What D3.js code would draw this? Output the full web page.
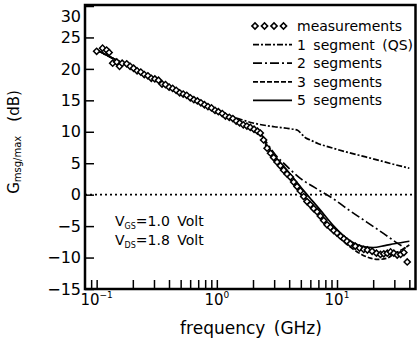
<!DOCTYPE html>
<html>
<head>
<meta charset="utf-8">
<title>Gmsg/max vs frequency</title>
<script src="https://cdnjs.cloudflare.com/ajax/libs/d3/7.8.5/d3.min.js"></script>
<style>
body { margin: 0; background: #fff; }
svg { font-family: "DejaVu Sans", sans-serif; }
</style>
</head>
<body>
<div id="chart"></div>
<script>
var measFreq = [0.100, 0.112, 0.121, 0.127, 0.136, 0.147, 0.155, 0.163, 0.178, 0.190,
    0.203, 0.217, 0.233, 0.249, 0.267, 0.285, 0.305, 0.327, 0.350, 0.374,
    0.401, 0.429, 0.459, 0.491, 0.525, 0.562, 0.602, 0.644, 0.689, 0.737,
    0.789, 0.844, 0.903, 0.966, 1.03, 1.11, 1.18, 1.27, 1.36, 1.45,
    1.55, 1.66, 1.78, 1.90, 2.04, 2.18, 2.30, 2.45, 2.62, 2.80,
    2.97, 3.17, 3.38, 3.60, 3.84, 4.09, 4.36, 4.65, 4.95, 5.28,
    5.63, 6.00, 6.39, 6.83, 7.27, 7.75, 8.27, 8.81, 9.39, 10.0,
    10.7, 11.4, 12.1, 12.9, 14.2, 15.4, 16.7, 17.9, 19.6, 21.3,
    23.0, 24.5, 26.2, 27.9, 29.7, 31.7, 33.8, 36.0, 38.4];
var measGain = [22.8, 23.3, 23.0, 22.6, 20.9, 21.1, 20.4, 20.9, 20.8, 20.4,
    20.1, 19.7, 19.5, 19.1, 18.9, 18.5, 18.4, 18.2, 17.6, 17.5,
    17.1, 16.9, 16.6, 16.2, 16.0, 15.8, 15.4, 15.1, 14.9, 14.6,
    14.3, 14.0, 13.8, 13.4, 13.2, 12.9, 12.5, 12.3, 12.1, 11.7,
    11.4, 11.1, 10.9, 10.7, 10.4, 10.1, 9.8, 8.7, 7.4, 6.6,
    5.9, 5.2, 4.6, 3.9, 3.3, 2.8, 2.0, 1.3, 0.6, -0.3,
    -1.1, -1.6, -2.2, -2.7, -3.4, -4.1, -4.8, -5.2, -5.7, -6.1,
    -6.6, -7.0, -7.4, -7.8, -8.2, -8.5, -8.7, -8.8, -9.0, -9.3,
    -9.5, -9.4, -9.3, -9.1, -9.3, -9.6, -9.5, -9.2, -10.7];

// model curves
var qsFreq = [0.1, 0.5, 1.0, 1.5, 2.0, 3.0, 4.0, 4.7, 5.1, 5.5, 6.0, 7.0, 8.5, 10, 15, 20, 30, 40];
var qsGain = [23.0, 16.1, 13.3, 12.1, 11.4, 10.8, 10.5, 10.25, 9.6, 9.0, 8.7, 8.1, 7.6, 7.2, 6.3, 5.7, 4.8, 4.2];

var seg2Freq = [0.1, 1.0, 2.0, 2.3, 2.53, 3.08, 3.6, 4.95, 6.83, 9.39, 12.9, 17.8, 24.5, 31.7, 38.4];
var seg2Gain = [23.0, 13.3, 10.4, 9.8, 8.6, 6.3, 5.0, 2.6, 0.9, -0.7, -2.6, -4.4, -6.2, -7.7, -8.7];

var seg3Freq = [0.1, 1.0, 2.0, 2.3, 2.6, 3.0, 3.6, 4.4, 5.3, 6.4, 7.75, 9.4, 11.4, 13.5, 16, 19, 22, 26, 30, 35, 40];
var seg3Gain = [23.0, 13.3, 10.4, 9.8, 7.5, 5.6, 3.7, 1.8, -0.2, -2.2, -4.1, -5.9, -7.5, -8.6, -9.5, -10.1, -10.3, -10.1, -9.4, -8.7, -8.0];

var seg5Freq = [0.1, 1.0, 2.0, 2.3, 2.6, 3.0, 3.6, 4.4, 5.3, 6.0, 7.3, 9.4, 12.1, 14.5, 17, 20, 25, 30, 40];
var seg5Gain = [23.0, 13.3, 10.4, 9.8, 7.8, 6.2, 4.5, 2.5, 0.6, -0.6, -2.5, -5.0, -7.0, -7.9, -8.3, -8.4, -8.1, -7.8, -7.4];

var yTicks = [-15, -10, -5, 0, 5, 10, 15, 20, 25, 30];
var xMinor = [0.09, 0.1, 0.2, 0.3, 0.4, 0.5, 0.6, 0.7, 0.8, 0.9, 1, 2, 3, 4, 5, 6, 7, 8, 9, 10, 20, 30, 40];
var xDecades = [0.1, 1, 10];
var xExps = ["\u22121", "0", "1"];
var legendLabels = ["measurements", "1 segment (QS)", "2 segments", "3 segments", "5 segments"];
var legendDash = [null, "6,2,2,2", "9,3,2,3", "5,2", null];

var w = 420, h = 347;
var left = 85, right = 415.5, topY = 5, bottom = 289;

var svg = d3.select("#chart").append("svg")
    .attr("width", w)
    .attr("height", h);

var x = d3.scaleLog().domain([0.08, 45]).range([left, right]);
var y = d3.scaleLinear().domain([-15, 30]).range([bottom, 6]);

// axes, ticks pointing inwards
var yAxis = svg.append("g")
    .attr("transform", "translate(" + left + ",0)")
    .call(d3.axisLeft(y).tickValues(yTicks).tickSize(-9).tickPadding(4));
yAxis.select(".domain").remove();
yAxis.selectAll("line").attr("stroke-width", 1.5);
yAxis.selectAll("text").attr("font-size", 16).attr("fill", "#000")
    .attr("font-family", "DejaVu Sans, sans-serif");
yAxis.selectAll(".tick").filter(function(d) { return d === 30; })
    .select("text").attr("dy", "0.95em");

var xAxis = svg.append("g")
    .attr("transform", "translate(0," + bottom + ")")
    .call(d3.axisBottom(x).tickValues(xMinor).tickSize(-9).tickFormat(""));
xAxis.select(".domain").remove();
xAxis.selectAll("line").attr("stroke-width", 1.5);

// decade labels
var xLab = svg.selectAll(".xlab")
    .data(xDecades)
    .enter()
    .append("text")
    .attr("class", "xlab")
    .attr("x", function(d) { return x(d); })
    .attr("y", 305)
    .attr("text-anchor", "middle")
    .attr("font-size", 15);
xLab.append("tspan").text("10");
xLab.append("tspan")
    .attr("font-size", 9)
    .attr("dy", -7)
    .text(function(d, i) { return xExps[i]; });

// zero line
svg.append("line")
    .attr("x1", left).attr("x2", right)
    .attr("y1", y(0)).attr("y2", y(0))
    .attr("stroke", "#000")
    .attr("stroke-width", 1.6)
    .attr("stroke-dasharray", "2,3");

var line = d3.line()
    .x(function(d) { return x(d[0]); })
    .y(function(d) { return y(d[1]); })
    .curve(d3.curveMonotoneX);

var models = [
    {f: qsFreq, g: qsGain, dash: legendDash[1]},
    {f: seg2Freq, g: seg2Gain, dash: legendDash[2]},
    {f: seg3Freq, g: seg3Gain, dash: legendDash[3]},
    {f: seg5Freq, g: seg5Gain, dash: legendDash[4]}
];

svg.selectAll(".model")
    .data(models)
    .enter()
    .append("path")
    .attr("class", "model")
    .attr("d", function(m) { return line(d3.zip(m.f, m.g)); })
    .attr("fill", "none")
    .attr("stroke", "#000")
    .attr("stroke-width", 1.7)
    .attr("stroke-dasharray", function(m) { return m.dash; });

// measurement diamonds
var diamond = d3.symbol().type(d3.symbolSquare).size(19);
svg.selectAll(".meas")
    .data(d3.zip(measFreq, measGain))
    .enter()
    .append("path")
    .attr("class", "meas")
    .attr("d", diamond)
    .attr("transform", function(d) { return "translate(" + x(d[0]) + "," + y(d[1]) + ") rotate(45)"; })
    .attr("fill", "#fff")
    .attr("stroke", "#000")
    .attr("stroke-width", 1.5);

// legend
var lg = svg.selectAll(".lg")
    .data(legendLabels)
    .enter()
    .append("g")
    .attr("class", "lg")
    .attr("transform", function(d, i) { return "translate(0," + (26 + i * 18.6) + ")"; });
lg.append("text")
    .attr("x", 297)
    .attr("y", 5)
    .attr("font-size", 14)
    .attr("word-spacing", 3)
    .text(function(d) { return d; });
lg.filter(function(d, i) { return i > 0; })
    .append("line")
    .attr("x1", 253).attr("x2", 292)
    .attr("stroke", "#000")
    .attr("stroke-width", 1.7)
    .attr("stroke-dasharray", function(d) { return legendDash[legendLabels.indexOf(d)]; });
lg.filter(function(d, i) { return i === 0; })
    .selectAll("path")
    .data([0, 1, 2, 3])
    .enter()
    .append("path")
    .attr("d", diamond)
    .attr("transform", function(d) { return "translate(" + (255 + d * 9.5) + ",0) rotate(45)"; })
    .attr("fill", "#fff")
    .attr("stroke", "#000")
    .attr("stroke-width", 1.6);

// bias note
var note = svg.append("text").attr("x", 115).attr("y", 226).attr("font-size", 14);
note.append("tspan").text("V");
note.append("tspan").attr("font-size", 8).attr("dy", 3).text("GS");
note.append("tspan").attr("dy", -3).attr("word-spacing", 3).text("=1.0 Volt");
var note2 = svg.append("text").attr("x", 115).attr("y", 245).attr("font-size", 14);
note2.append("tspan").text("V");
note2.append("tspan").attr("font-size", 8).attr("dy", 3).text("DS");
note2.append("tspan").attr("dy", -3).attr("word-spacing", 3).text("=1.8 Volt");

// axis titles
svg.append("text")
    .attr("x", 251)
    .attr("y", 334)
    .attr("text-anchor", "middle")
    .attr("font-size", 17)
    .attr("word-spacing", 3)
    .text("frequency (GHz)");

var yt = svg.append("text")
    .attr("transform", "translate(18.5,142) rotate(-90)")
    .attr("text-anchor", "middle")
    .attr("font-size", 15);
yt.append("tspan").text("G");
yt.append("tspan").attr("font-size", 10).attr("dy", 2.5).text("msg/max");
yt.append("tspan").attr("dy", -2.5).attr("dx", 14).text("(dB)");

// frame
svg.append("rect")
    .attr("x", left).attr("y", topY)
    .attr("width", right - left).attr("height", bottom - topY)
    .attr("fill", "none")
    .attr("stroke", "#000")
    .attr("stroke-width", 2.5);
</script>
</body>
</html>
